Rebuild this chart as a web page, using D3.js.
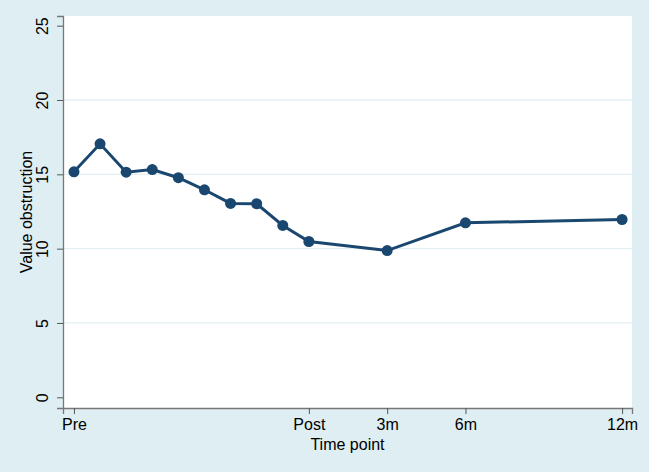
<!DOCTYPE html>
<html>
<head>
<meta charset="utf-8">
<script src="https://cdn.jsdelivr.net/npm/d3@7"></script>
<style>
  body { margin: 0; background: #deeef2; }
  svg { display: block; font-family: "Liberation Sans", Arial, sans-serif; }
</style>
</head>
<body>
<div id="chart"></div>
<script>
// months relative to end of treatment (Post = 0)
var timePoints = [-9, -8, -7, -6, -5, -4, -3, -2, -1, 0, 3, 6, 12];
var obstruction = [15.17, 17.05, 15.14, 15.32, 14.77, 13.96, 13.04, 13.02, 11.56, 10.48, 9.87, 11.74, 11.96];
var xTickValues = [-9, 0, 3, 6, 12];
var xTickLabels = ["Pre", "Post", "3m", "6m", "12m"];
var yTickValues = [0, 5, 10, 15, 20, 25];

var width = 649, height = 472;
var margin = {top: 16, right: 17, bottom: 64, left: 63},
    w = width - margin.left - margin.right,
    h = height - margin.top - margin.bottom;

var svg = d3.select("#chart").append("svg")
    .attr("width", width)
    .attr("height", height);

svg.append("rect").attr("width", width).attr("height", height).attr("fill", "#deeef2");

var g = svg.append("g")
    .attr("transform", "translate(" + margin.left + "," + margin.top + ")");

g.append("rect").attr("width", w).attr("height", h).attr("fill", "white");

var x = d3.scaleLinear().domain([-9.42, 12.38]).range([0, w]);
var y = d3.scaleLinear().domain([-0.72, 25.65]).range([h, 0]);

// grid lines
g.selectAll(".grid").data([5, 10, 15, 20]).enter().append("line")
    .attr("x1", 0).attr("x2", w)
    .attr("y1", function(d) { return y(d); })
    .attr("y2", function(d) { return y(d); })
    .attr("stroke", "#e2f0f3").attr("stroke-width", 1.3);

// y axis
var yAxis = g.append("g")
    .call(d3.axisLeft(y).tickValues(yTickValues).tickSize(6).tickPadding(7));
yAxis.select(".domain").attr("stroke", "#777").attr("stroke-width", 1.3);
yAxis.selectAll(".tick line").attr("stroke", "#555");
yAxis.selectAll(".tick text")
    .attr("font-size", "16px").attr("fill", "#000")
    .attr("transform", "rotate(-90)")
    .attr("x", 0).attr("y", -15)
    .attr("dy", 0)
    .style("text-anchor", "middle");

// x axis
var xAxis = g.append("g")
    .attr("transform", "translate(0," + h + ")")
    .call(d3.axisBottom(x).tickValues(xTickValues)
      .tickFormat(function(d, i) { return xTickLabels[i]; })
      .tickSize(6).tickPadding(5));
xAxis.select(".domain").attr("stroke", "#777").attr("stroke-width", 1.3);
xAxis.selectAll(".tick line").attr("stroke", "#555");
xAxis.selectAll(".tick text").attr("font-size", "16px").attr("fill", "#000");

// axis titles
svg.append("text")
    .attr("x", margin.left + w / 2).attr("y", 450)
    .attr("text-anchor", "middle")
    .attr("font-size", "16px")
    .text("Time point");

svg.append("text")
    .attr("transform", "translate(32," + (margin.top + h / 2) + ") rotate(-90)")
    .attr("text-anchor", "middle")
    .attr("font-size", "16px")
    .text("Value obstruction");

// line + markers
var line = d3.line()
    .x(function(d, i) { return x(timePoints[i]); })
    .y(function(d) { return y(d); });

g.append("path")
    .datum(obstruction)
    .attr("fill", "none")
    .attr("stroke", "#1a476f")
    .attr("stroke-width", 3)
    .attr("d", line);

g.selectAll(".dot").data(obstruction).enter().append("circle")
    .attr("cx", function(d, i) { return x(timePoints[i]); })
    .attr("cy", function(d) { return y(d); })
    .attr("r", 5.5)
    .attr("fill", "#1a476f");
</script>
</body>
</html>
